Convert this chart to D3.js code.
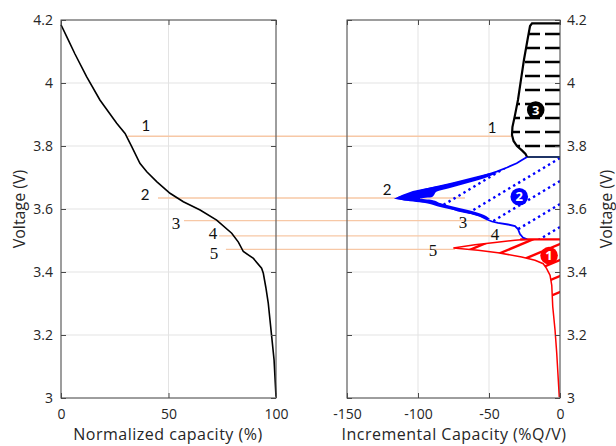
<!DOCTYPE html>
<html>
<head>
<meta charset="utf-8">
<script src="https://cdn.jsdelivr.net/npm/d3@7"></script>
<style>
  body { margin: 0; background: #fff; }
  svg text { font-family: "Open Sans", "Noto Sans", sans-serif; fill: #262626; }
</style>
</head>
<body>
<svg id="chart" width="616" height="446"></svg>
<script>
// Discharge curve: normalized capacity (%) vs voltage (V)
const capPct = [0, 2.65, 6.5, 11.9, 18.1, 25.9, 29.8, 32.9, 36.7, 39.9, 44.5, 50.7, 56.9, 64.7, 72.4, 79.4, 82.5, 84.8, 89.5, 93.3, 94.1, 95.3, 96.4, 98.0, 99.1, 100];
const capV   = [4.185, 4.147, 4.092, 4.020, 3.946, 3.872, 3.840, 3.798, 3.745, 3.718, 3.687, 3.650, 3.623, 3.597, 3.565, 3.523, 3.495, 3.465, 3.443, 3.412, 3.396, 3.350, 3.301, 3.195, 3.121, 3.004];

// Incremental capacity curve, split into its three voltage regions
const icHighV  = [4.1895, 4.1895, 4.181, 4.1365, 4.073, 4.010, 3.946, 3.898, 3.860, 3.835, 3.816, 3.800, 3.786, 3.775, 3.765];
const icHigh   = [0, -19.7, -21.1, -22.9, -25.4, -27.5, -29.6, -31.7, -33.5, -33.8, -32.7, -30.3, -26.8, -24.3, -23.2];
const icMidV   = [3.7651, 3.7556, 3.7451, 3.7317, 3.7184, 3.7048, 3.6921, 3.6810, 3.6708, 3.6619, 3.6540, 3.6429, 3.6340, 3.6302, 3.6270, 3.6222, 3.6095, 3.5952, 3.5873, 3.5778, 3.5667, 3.5603, 3.5556, 3.5508, 3.5460, 3.5365, 3.5206, 3.5095, 3.5038];
const icMid    = [-23.2, -26.8, -30.5, -37.3, -44.6, -54.2, -63.4, -73.9, -84.5, -95.1, -103.5, -110.6, -114.8, -109.2, -98.6, -90.1, -81.0, -71.8, -63.4, -56.3, -51.4, -47.9, -43.7, -36.6, -31.7, -29.6, -28.2, -26.1, -23.2];
const icLowV   = [3.5038, 3.5006, 3.4937, 3.4863, 3.4762, 3.4689, 3.4613, 3.4476, 3.4372, 3.4263, 3.4105, 3.3895, 3.3578, 3.2898, 3.2159, 3.1419, 3.0571, 3.0032];
const icLow    = [-23.2, -31.7, -45.8, -59.9, -75.1, -57.7, -43.7, -27.0, -17.6, -11.8, -9.4, -7.0, -5.8, -5.1, -3.5, -2.3, -1.2, -0.5];

// Spread of the noisy samples around the main peak
const noiseV  = [3.7143, 3.6984, 3.6825, 3.6667, 3.6540, 3.6444, 3.6381, 3.6333, 3.6286, 3.6190, 3.6063, 3.5937, 3.5810, 3.5683];
const noiseLo = [-49.3, -63.4, -77.5, -93.0, -103.5, -109.9, -114.1, -115.5, -111.3, -95.1, -84.5, -71.8, -59.9, -52.1];
const noiseHi = [-44.4, -52.8, -64.8, -77.5, -87.3, -88.7, -90.1, -98.6, -90.1, -84.5, -73.9, -62.0, -53.5, -49.3];

// Peak annotations linking both panels
const peakNames = ["1", "2", "3", "4", "5"];
const peakV     = [3.831, 3.635, 3.563, 3.515, 3.472];
const peakCap   = [31.0, 45.1, 57.2, 73.5, 76.7];
const peakIC    = [-33.8, -66.9, -51.4, -28.2, -74.0];
const labelCap  = [39.5, 39.1, 53.5, 70.7, 71.2];
const labelCapV = [3.8635, 3.6444, 3.5556, 3.5238, 3.4603];
const labelIC   = [-47.9, -121.8, -68.3, -45.8, -89.4];
const labelICV  = [3.857, 3.660, 3.559, 3.521, 3.470];

// Region markers
const regionNames = ["1", "2", "3"];
const regionIC    = [-7.7, -28.7, -17.1];
const regionV     = [3.452, 3.639, 3.914];
const regionColor = ["#ff0000", "#0000ff", "#000000"];

// Axis ticks
const capTicks = [0, 50, 100];
const icTicks  = [-150, -100, -50, 0];
const vTicks   = [3, 3.2, 3.4, 3.6, 3.8, 4, 4.2];

const svg = d3.select("#chart");
const L = { x0: 61, x1: 276 }, R = { x0: 347, x1: 560 }, plotTop = 20, plotBottom = 398;

const xCap = d3.scaleLinear().domain([0, 100]).range([L.x0, L.x1]);
const xIC  = d3.scaleLinear().domain([-150, 0]).range([R.x0, R.x1]);
const yV   = d3.scaleLinear().domain([3, 4.2]).range([plotBottom, plotTop]);

const zip = (a, b) => a.map((v, i) => [v, b[i]]);
const gridColor = "#e3e3e3", axisColor = "#4a4a4a";

// Grid lines
function grid(x, ticks, xr) {
  const g = svg.append("g");
  g.selectAll(".gx").data(ticks).join("line")
    .attr("x1", d => x(d)).attr("x2", d => x(d)).attr("y1", plotTop).attr("y2", plotBottom)
    .attr("stroke", gridColor).attr("stroke-width", 1);
  g.selectAll(".gy").data(vTicks).join("line")
    .attr("x1", xr[0]).attr("x2", xr[1]).attr("y1", d => yV(d)).attr("y2", d => yV(d))
    .attr("stroke", gridColor).attr("stroke-width", 1);
}
grid(xCap, capTicks, [L.x0, L.x1]);
grid(xIC, icTicks, [R.x0, R.x1]);

// Peak guide lines
const peach = "#f7c8a6";
svg.append("g").selectAll("line").data(peakNames).join("line")
  .attr("x1", (d, i) => xCap(peakCap[i])).attr("x2", (d, i) => xIC(peakIC[i]))
  .attr("y1", (d, i) => yV(peakV[i])).attr("y2", (d, i) => yV(peakV[i]))
  .attr("stroke", peach).attr("stroke-width", 1.3);

// Left panel: discharge curve
const lineCap = d3.line().x(d => xCap(d[0])).y(d => yV(d[1]));
svg.append("path").datum(zip(capPct, capV)).attr("d", lineCap)
  .attr("fill", "none").attr("stroke", "#000").attr("stroke-width", 1.6);

// Right panel
const lineIC = d3.line().x(d => xIC(d[0])).y(d => yV(d[1]));
const defs = svg.append("defs");

function regionClip(id, ic, v) {
  const pts = zip(ic, v);
  pts.push([0, v[v.length - 1]], [0, v[0]]);
  defs.append("clipPath").attr("id", id).append("path").attr("d", lineIC(pts) + "Z");
}

// High-voltage region: horizontal dashed hatch
regionClip("clipHigh", icHigh, icHighV);
const gHigh = svg.append("g").attr("clip-path", "url(#clipHigh)");
gHigh.selectAll("line").data(d3.range(9).map(k => 3.80 + k * 0.4 / 9)).join("line")
  .attr("x1", xIC(0)).attr("x2", xIC(-45))
  .attr("y1", d => yV(d)).attr("y2", d => yV(d))
  .attr("stroke", "#000").attr("stroke-width", 2.6).attr("stroke-dasharray", "15,5");

// Mid-voltage region: dotted diagonal hatch
regionClip("clipMid", icMid, icMidV);
const gMid = svg.append("g").attr("clip-path", "url(#clipMid)");
gMid.selectAll("line").data([135, 158, 181, 204, 227]).join("line")
  .attr("x1", R.x1).attr("y1", d => d)
  .attr("x2", R.x1 - 200).attr("y2", d => d + 0.6 * 200)
  .attr("stroke", "#0000ff").attr("stroke-width", 2.4).attr("stroke-dasharray", "2.4,3.4");

// Low-voltage region: solid diagonal hatch (upper part of the tail)
const lowCut = icLowV.filter(v => v >= 3.28).length;
regionClip("clipLow", icLow.slice(0, lowCut), icLowV.slice(0, lowCut));
const gLow = svg.append("g").attr("clip-path", "url(#clipLow)");
gLow.selectAll("line").data([212, 228, 244, 260, 276, 292]).join("line")
  .attr("x1", R.x1 + 4).attr("y1", d => d - 0.42 * 4)
  .attr("x2", R.x1 - 200).attr("y2", d => d + 0.42 * 200)
  .attr("stroke", "#ff0000").attr("stroke-width", 2.4);

// Region borders at the region boundaries
svg.append("line").attr("x1", xIC(icHigh[icHigh.length - 1])).attr("x2", xIC(0))
  .attr("y1", yV(icMidV[0])).attr("y2", yV(icMidV[0]))
  .attr("stroke", "#1f3466").attr("stroke-width", 2);
svg.append("line").attr("x1", xIC(-28)).attr("x2", xIC(0))
  .attr("y1", yV(icLowV[0])).attr("y2", yV(icLowV[0]))
  .attr("stroke", "#ff0000").attr("stroke-width", 2.2);

// Noise spread around the main peak
const areaNoise = d3.area().y(d => yV(d[0])).x0(d => xIC(d[1])).x1(d => xIC(d[2]));
svg.append("path").datum(noiseV.map((v, i) => [v, noiseLo[i], noiseHi[i]]))
  .attr("d", areaNoise.curve(d3.curveMonotoneY)).attr("fill", "#0000ff");

// IC curves
svg.append("path").datum(zip(icHigh, icHighV)).attr("d", lineIC)
  .attr("fill", "none").attr("stroke", "#000").attr("stroke-width", 2.2);
svg.append("path").datum(zip(icMid, icMidV)).attr("d", lineIC)
  .attr("fill", "none").attr("stroke", "#0000ff").attr("stroke-width", 1.8);
svg.append("path").datum(zip(icLow, icLowV)).attr("d", lineIC)
  .attr("fill", "none").attr("stroke", "#ff0000").attr("stroke-width", 1.5);

// Region markers
const gm = svg.append("g");
gm.selectAll("circle").data(regionNames).join("circle")
  .attr("cx", (d, i) => xIC(regionIC[i])).attr("cy", (d, i) => yV(regionV[i]))
  .attr("r", 8.8).attr("fill", (d, i) => regionColor[i]);
gm.selectAll("text").data(regionNames).join("text")
  .attr("x", (d, i) => xIC(regionIC[i])).attr("y", (d, i) => yV(regionV[i]))
  .attr("text-anchor", "middle").attr("dy", "0.36em")
  .style("fill", "#fff").style("font-size", "13px").style("font-weight", "bold")
  .text(d => d);

// Peak numbers
const sansPeak = d => d === "1" || d === "2";
function peakLabels(xs, vs, x) {
  svg.append("g").selectAll("text").data(peakNames).join("text")
    .attr("x", (d, i) => x(xs[i])).attr("y", (d, i) => yV(vs[i]))
    .attr("text-anchor", "middle").attr("dy", "0.35em")
    .style("font-family", d => sansPeak(d) ? "Lato, 'Open Sans', sans-serif" : "'Liberation Serif', serif")
    .style("font-size", d => sansPeak(d) ? "15px" : "17px").style("fill", "#111")
    .text(d => d);
}
peakLabels(labelCap, labelCapV, xCap);
peakLabels(labelIC, labelICV, xIC);

// Axes with inward ticks
function styleAxis(g) {
  g.select(".domain").remove();
  g.selectAll(".tick line").attr("stroke", axisColor);
  g.selectAll("text").style("font-size", "14px").style("fill", "#262626");
}
function box(x0, x1) {
  svg.append("rect").attr("x", x0).attr("y", plotTop).attr("width", x1 - x0).attr("height", plotBottom - plotTop)
    .attr("fill", "none").attr("stroke", axisColor).attr("stroke-width", 1);
}
const tk = 5;
const plain = d => String(d);
// left panel
svg.append("g").attr("transform", `translate(0,${plotBottom})`)
  .call(d3.axisBottom(xCap).tickValues(capTicks).tickSize(-tk).tickPadding(11).tickFormat(plain)).call(styleAxis);
svg.append("g").attr("transform", `translate(0,${plotTop})`)
  .call(d3.axisTop(xCap).tickValues(capTicks).tickSize(-tk).tickFormat("")).call(styleAxis);
svg.append("g").attr("transform", `translate(${L.x0},0)`)
  .call(d3.axisLeft(yV).tickValues(vTicks).tickSize(-tk).tickPadding(8).tickFormat(plain)).call(styleAxis);
svg.append("g").attr("transform", `translate(${L.x1},0)`)
  .call(d3.axisRight(yV).tickValues(vTicks).tickSize(-tk).tickFormat("")).call(styleAxis);
box(L.x0, L.x1);
// right panel
svg.append("g").attr("transform", `translate(0,${plotBottom})`)
  .call(d3.axisBottom(xIC).tickValues(icTicks).tickSize(-tk).tickPadding(11).tickFormat(plain)).call(styleAxis);
svg.append("g").attr("transform", `translate(0,${plotTop})`)
  .call(d3.axisTop(xIC).tickValues(icTicks).tickSize(-tk).tickFormat("")).call(styleAxis);
svg.append("g").attr("transform", `translate(${R.x1},0)`)
  .call(d3.axisRight(yV).tickValues(vTicks).tickSize(-tk).tickPadding(7).tickFormat(plain)).call(styleAxis);
svg.append("g").attr("transform", `translate(${R.x0},0)`)
  .call(d3.axisLeft(yV).tickValues(vTicks).tickSize(-tk).tickFormat("")).call(styleAxis);
box(R.x0, R.x1);

// Axis titles
const title = (x, y, rot, t, spacing) => svg.append("text")
  .attr("transform", `translate(${x},${y}) rotate(${rot})`)
  .attr("text-anchor", "middle").attr("dy", "0.35em")
  .style("font-size", "16px").style("letter-spacing", spacing + "px").style("fill", "#262626").text(t);
title(168, 434, 0, "Normalized capacity (%)", 0.5);
title(454, 434, 0, "Incremental Capacity (%Q/V)", 0.5);
title(19, 209, -90, "Voltage (V)", 0);
title(606, 209, -90, "Voltage (V)", 0);
</script>
</body>
</html>
